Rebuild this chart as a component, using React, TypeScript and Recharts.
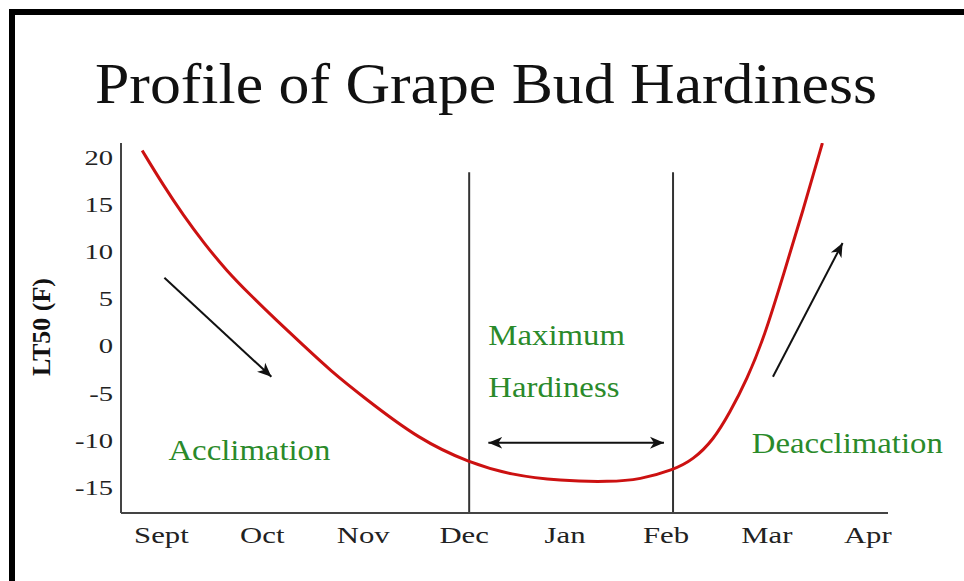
import { LineChart, Line, XAxis, YAxis, ReferenceLine, ReferenceDot } from "recharts";

const months = ["Sept", "Oct", "Nov", "Dec", "Jan", "Feb", "Mar", "Apr"];
const monthTicks = [0, 1, 2, 3, 4, 5, 6, 7];
const lt50Ticks = [20, 15, 10, 5, 0, -5, -10, -15];

// curve: month position (0 = Sept) and LT50 in F
const curveMonth = [-0.19, 0.02, 0.22, 0.42, 0.65, 0.88, 1.15, 1.41, 1.67, 2.0, 2.56, 3.06, 3.46, 3.95, 4.45, 4.74, 5.07, 5.27, 5.47, 5.63, 5.8, 5.98, 6.16, 6.36, 6.55];
const curveLT50 = [20.7, 17.0, 13.8, 10.9, 7.9, 5.4, 2.6, 0.0, -2.6, -5.45, -10.0, -12.45, -13.7, -14.35, -14.45, -14.2, -13.2, -12.1, -10.0, -7.15, -3.65, 1.1, 7.4, 14.4, 21.5];

// Dec / Feb boundaries of the maximum hardiness period
const phaseBounds = [3.05, 5.07];
const phaseTop = 18.4;

const arrowFrom = [[0.03, 7.2], [6.06, -3.3], [3.24, -10.3]];
const arrowTo = [[1.09, -3.3], [6.75, 10.9], [4.98, -10.3]];
const arrowBoth = [false, false, true];

const noteText = ["Acclimation", "Maximum", "Hardiness", "Deacclimation"];
const noteMonth = [0.07, 3.24, 3.24, 5.85];
const noteLT50 = [-12.1, 0.06, -5.45, -11.4];

const data = curveMonth.map((m, i) => ({ m, lt50: curveLT50[i] }));

const SERIF = "'Liberation Serif', 'Times New Roman', serif";
const GREEN = "#2a8a2a";

const XTick = ({ x, y, payload }: any) => (
  <g transform={`translate(${x},${y})`}>
    <text transform="scale(1.28,1)" textAnchor="middle" y={22} fontFamily={SERIF} fontSize={24} fill="#222">
      {months[payload.value]}
    </text>
  </g>
);

const YTick = ({ x, y, payload }: any) => (
  <g transform={`translate(${x},${y})`}>
    <text transform="scale(1.3,1)" textAnchor="end" dy="0.35em" fontFamily={SERIF} fontSize={22} fill="#222">
      {payload.value}
    </text>
  </g>
);

export default function App() {
  return (
    <div style={{ position: "absolute", left: 0, top: 0, width: 964, height: 581, background: "#fff" }}>
      <LineChart width={964} height={581} data={data} margin={{ top: 143, right: 76, bottom: 28, left: 61 }}>
        <XAxis
          type="number"
          dataKey="m"
          domain={[-0.4, 7.2]}
          ticks={monthTicks}
          interval={0}
          allowDataOverflow
          tickLine={false}
          axisLine={{ stroke: "#444", strokeWidth: 2 }}
          tick={<XTick />}
          height={40}
        />
        <YAxis
          type="number"
          domain={[-17.75, 21.5]}
          ticks={lt50Ticks}
          interval={0}
          allowDataOverflow
          tickLine={false}
          axisLine={{ stroke: "#444", strokeWidth: 2 }}
          tick={<YTick />}
          width={60}
        />
        {phaseBounds.map((b) => (
          <ReferenceLine
            key={b}
            segment={[{ x: b, y: phaseTop }, { x: b, y: -17.75 }]}
            stroke="#333"
            strokeWidth={2}
          />
        ))}
        {arrowFrom.map((f, i) => (
          <ReferenceLine
            key={"a" + i}
            segment={[{ x: f[0], y: f[1] }, { x: arrowTo[i][0], y: arrowTo[i][1] }]}
            shape={(p: any) => (
              <line
                x1={p.x1}
                y1={p.y1}
                x2={p.x2}
                y2={p.y2}
                stroke="#111"
                strokeWidth={2}
                markerEnd="url(#arrowHead)"
                markerStart={arrowBoth[i] ? "url(#arrowHead)" : undefined}
              />
            )}
          />
        ))}
        <Line
          type="basis"
          dataKey="lt50"
          stroke="#cc1111"
          strokeWidth={3}
          dot={false}
          isAnimationActive={false}
        />
        {noteText.map((t, i) => (
          <ReferenceDot
            key={t}
            x={noteMonth[i]}
            y={noteLT50[i]}
            shape={(p: any) => (
              <text
                transform={`translate(${p.cx},${p.cy}) scale(1.13,1)`}
                fontFamily={SERIF}
                fontSize={29}
                fill={GREEN}
              >
                {t}
              </text>
            )}
          />
        ))}
      </LineChart>
      <svg width={964} height={581} style={{ position: "absolute", left: 0, top: 0, pointerEvents: "none" }}>
        <defs>
          <marker
            id="arrowHead"
            markerUnits="userSpaceOnUse"
            markerWidth={16}
            markerHeight={14}
            refX={14}
            refY={7}
            orient="auto-start-reverse"
          >
            <path d="M0,1 L14,7 L0,13 L4,7 Z" fill="#111" />
          </marker>
        </defs>
        <rect x={9} y={9} width={955} height={6} fill="#000" />
        <rect x={9} y={9} width={6} height={572} fill="#000" />
        <text x={486} y={103} textAnchor="middle" fontFamily={SERIF} fontSize={56} textLength={782} lengthAdjust="spacingAndGlyphs" fill="#111">
          Profile of Grape Bud Hardiness
        </text>
        <text transform="translate(50,327) rotate(-90)" textAnchor="middle" fontFamily={SERIF} fontWeight="bold" fontSize={26} fill="#111">
          LT50 (F)
        </text>
      </svg>
    </div>
  );
}
